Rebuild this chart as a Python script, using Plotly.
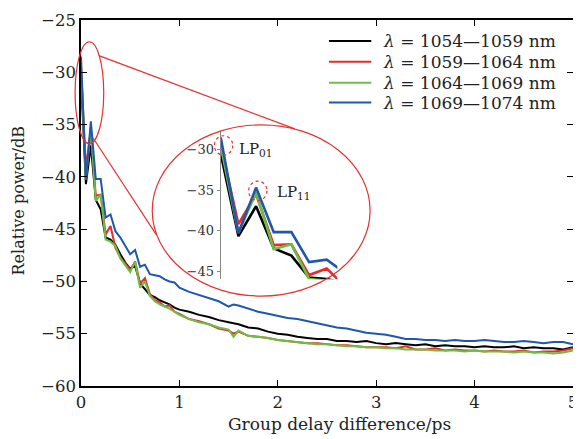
import plotly.graph_objects as go

# ---------------- data ----------------
delay_ps = [0, 0.05, 0.1, 0.15, 0.2, 0.25, 0.3, 0.35, 0.4, 0.45, 0.5, 0.55, 0.6, 0.65, 0.7,
            0.75, 0.8, 0.85, 0.9, 0.95, 1.0, 1.1, 1.2, 1.3, 1.4, 1.5, 1.55, 1.6, 1.7, 1.8, 1.9,
            2.0, 2.1, 2.2, 2.3, 2.4, 2.5, 2.6, 2.7, 2.8, 2.9, 3.0, 3.1, 3.2, 3.3, 3.4, 3.5,
            3.6, 3.7, 3.8, 3.9, 4.0, 4.1, 4.2, 4.3, 4.4, 4.5, 4.6, 4.7, 4.8, 4.9, 5.0]

p_1054 = [-30.5, -40.7, -37.0, -42.2, -43.1, -45.8, -46.0, -46.5, -47.4, -48.2, -48.8, -48.5, -50.2, -50.8, -51.3,
          -51.5, -51.8, -52.0, -52.2, -52.5, -52.7, -52.9, -53.2, -53.4, -53.7, -53.9, -54.0, -54.1, -54.4, -54.5, -54.8,
          -55.0, -55.1, -55.3, -55.4, -55.5, -55.5, -55.7, -55.7, -55.8, -55.7, -55.9, -56.0, -55.9, -56.0, -56.1, -56.0,
          -56.2, -56.1, -56.2, -56.2, -56.3, -56.2, -56.3, -56.3, -56.2, -56.4, -56.3, -56.4, -56.4, -56.5, -56.3]

p_1059 = [-29.5, -39.2, -35.5, -41.8, -41.7, -45.5, -44.7, -46.8, -47.7, -48.3, -48.9, -48.1, -50.2, -49.7, -51.2,
          -51.8, -52.0, -52.4, -52.3, -52.9, -53.1, -53.6, -53.8, -54.1, -54.5, -54.7, -55.0, -54.8, -55.2, -55.3, -55.4,
          -55.6, -55.7, -55.8, -55.9, -55.9, -56.0, -56.1, -56.1, -56.2, -56.3, -56.3, -56.3, -56.4, -56.2, -56.5, -56.5,
          -56.4, -56.6, -56.5, -56.6, -56.6, -56.7, -56.6, -56.7, -56.7, -56.6, -56.8, -56.7, -56.7, -56.6, -56.4]

p_1064 = [-29.5, -40.3, -35.3, -42.3, -41.7, -46.0, -46.2, -46.6, -47.8, -48.5, -49.1, -48.1, -50.6, -50.0, -51.4,
          -51.9, -52.2, -52.4, -52.6, -52.9, -53.2, -53.6, -53.9, -54.1, -54.4, -54.6, -55.3, -54.7, -55.2, -55.3, -55.4,
          -55.6, -55.7, -55.8, -55.9, -56.0, -56.0, -56.1, -56.2, -56.2, -56.3, -56.3, -56.4, -56.4, -56.5, -56.5, -56.5,
          -56.6, -56.6, -56.6, -56.7, -56.6, -56.7, -56.7, -56.7, -56.8, -56.7, -56.8, -56.8, -56.9, -56.8, -56.6]

p_1069 = [-28.5, -40.3, -34.7, -40.2, -40.2, -43.9, -43.6, -45.2, -45.8, -46.6, -47.4, -47.0, -48.6, -48.4, -49.3,
          -49.4, -49.5, -49.8, -50.0, -50.1, -50.6, -51.0, -51.3, -51.6, -51.9, -52.4, -52.2, -52.3, -52.6, -52.9, -53.1,
          -53.3, -53.5, -53.6, -53.8, -54.0, -54.2, -54.4, -54.5, -54.7, -54.9, -55.0, -55.1, -55.3, -55.5, -55.5, -55.6,
          -55.6, -55.7, -55.6, -55.7, -55.7, -55.6, -55.7, -55.8, -55.8, -55.7, -55.8, -55.9, -55.8, -55.8, -56.0]

series_names = ["<i>λ</i> = 1054—1059 nm", "<i>λ</i> = 1059—1064 nm",
                "<i>λ</i> = 1064—1069 nm", "<i>λ</i> = 1069—1074 nm"]
series_values = [p_1054, p_1059, p_1064, p_1069]
series_colors = ["#000000", "#e82a2a", "#6abf45", "#1e56b0"]

x_ticks = [0, 1, 2, 3, 4, 5]
y_ticks = [-60, -55, -50, -45, -40, -35, -30, -25]
inset_y_ticks = [-45, -40, -35, -30]

# ---------------- layout helpers ----------------
XR = [0, 5]
YR = [-60, -25]
IN_XD = [0.284, 0.521]
IN_YD = [0.292, 0.697]
IN_XR = [0, 0.33]
IN_YR = [-46, -27.7]

def mx(x):
    return (x - XR[0]) / (XR[1] - XR[0])

def my(y):
    return (y - YR[0]) / (YR[1] - YR[0])

def ix(x):
    return IN_XD[0] + (x - IN_XR[0]) / (IN_XR[1] - IN_XR[0]) * (IN_XD[1] - IN_XD[0])

def iy(y):
    return IN_YD[0] + (y - IN_YR[0]) / (IN_YR[1] - IN_YR[0]) * (IN_YD[1] - IN_YD[0])

FONT = "DejaVu Serif"
RED = "#e8302e"
TXT = "#222222"

fig = go.Figure()

for name, vals, col in zip(series_names, series_values, series_colors):
    fig.add_trace(go.Scatter(x=delay_ps, y=vals, mode="lines", name=name, showlegend=False,
                             line=dict(color=col, width=2), xaxis="x", yaxis="y"))

for name, vals, col in zip(series_names, series_values, series_colors):
    fig.add_trace(go.Scatter(x=delay_ps, y=vals, mode="lines", name=name, showlegend=False,
                             line=dict(color=col, width=2.6), xaxis="x2", yaxis="y2"))

shapes = []
shapes.append(dict(type="circle", xref="paper", yref="paper",
                   x0=mx(-0.06), x1=mx(0.231), y0=my(-36.83), y1=my(-27.08),
                   line=dict(color=RED, width=1.2)))
shapes.append(dict(type="circle", xref="paper", yref="paper",
                   x0=mx(0.724), x1=mx(2.938), y0=my(-51.40), y1=my(-35.03),
                   line=dict(color=RED, width=1.2)))
shapes.append(dict(type="line", xref="paper", yref="paper",
                   x0=mx(0.181), y0=my(-28.41), x1=mx(2.173), y1=my(-35.41),
                   line=dict(color=RED, width=1.2)))
shapes.append(dict(type="line", xref="paper", yref="paper",
                   x0=mx(0.121), y0=my(-36.26), x1=mx(0.765), y1=my(-45.53),
                   line=dict(color=RED, width=1.2)))
for cx, cy in [(0.008, -29.5), (0.105, -35.1)]:
    shapes.append(dict(type="circle", xref="paper", yref="paper",
                       x0=ix(cx - 0.026), x1=ix(cx + 0.026), y0=iy(cy - 1.2), y1=iy(cy + 1.2),
                       line=dict(color=RED, width=1.2, dash="dot")))

annotations = [
    dict(x=ix(0.045), y=iy(-30.0), xref="paper", yref="paper", xanchor="left", yanchor="middle",
         text="LP<sub>01</sub>", showarrow=False, font=dict(family=FONT, size=15, color=TXT)),
    dict(x=ix(0.154), y=iy(-35.3), xref="paper", yref="paper", xanchor="left", yanchor="middle",
         text="LP<sub>11</sub>", showarrow=False, font=dict(family=FONT, size=15, color=TXT)),
    # axis titles
    dict(x=mx(2.63), y=-0.103, xref="paper", yref="paper", xanchor="center", yanchor="middle",
         text="Group delay difference/ps", showarrow=False, font=dict(family=FONT, size=17, color=TXT)),
    dict(x=-0.127, y=my(-42.3), xref="paper", yref="paper", xanchor="center", yanchor="middle",
         text="Relative power/dB", textangle=-90, showarrow=False,
         font=dict(family=FONT, size=16, color=TXT)),
]

# legend drawn as short line samples + labels (row centres in dB on the main scale)
legend_rows_db = [-27.0, -29.0, -31.0, -32.9]
for name, col, ydb in zip(series_names, series_colors, legend_rows_db):
    shapes.append(dict(type="line", xref="paper", yref="paper",
                       x0=mx(2.52), x1=mx(2.95), y0=my(ydb), y1=my(ydb),
                       line=dict(color=col, width=2)))
    annotations.append(dict(x=mx(3.05), y=my(ydb), xref="paper", yref="paper",
                            xanchor="left", yanchor="middle", text=name, showarrow=False,
                            font=dict(family=FONT, size=17, color=TXT)))

axis_common = dict(showline=True, linecolor="black", linewidth=1.6, mirror="ticks",
                   ticks="inside", ticklen=6, tickwidth=1.2, tickcolor="black",
                   showgrid=False, zeroline=False, ticklabeloverflow="allow",
                   tickfont=dict(family=FONT, size=16.5, color=TXT))

# page body has an 8px margin: the figure is sized so the plot area lands where the reference has it
fig.update_layout(
    width=573, height=431,
    margin=dict(l=73, r=3, t=8, b=53),
    paper_bgcolor="white", plot_bgcolor="white",
    font=dict(family=FONT, size=15, color=TXT),
    xaxis=dict(range=XR, tickvals=x_ticks, domain=[0, 1], **axis_common),
    yaxis=dict(range=YR, tickvals=y_ticks, domain=[0, 1], **axis_common),
    xaxis2=dict(range=IN_XR, domain=IN_XD, anchor="y2", visible=False),
    yaxis2=dict(range=IN_YR, domain=IN_YD, anchor="x2", tickvals=inset_y_ticks,
                showline=True, linecolor="#888", linewidth=1.2, ticks="outside", ticklen=3,
                tickcolor="#888", showgrid=False, zeroline=False,
                tickfont=dict(family=FONT, size=13, color="#333")),
    shapes=shapes,
    annotations=annotations,
    showlegend=False,
)

fig.write_html("out.html")
